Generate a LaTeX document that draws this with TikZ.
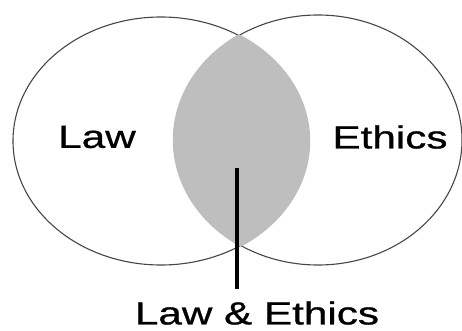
\documentclass[tikz,border=0pt]{standalone}
\usepackage{fontspec}
\usepackage{xcolor}
\usepackage{tikz}
\usetikzlibrary{positioning,shapes.geometric}
\newfontfamily\vennfont[FakeStretch=1.32,FakeBold=0.8]{Liberation Sans}
\definecolor{vennline}{RGB}{70,70,70}
\definecolor{venngray}{RGB}{190,190,190}

\begin{document}
\begin{tikzpicture}[x=1pt, y=-1pt,
      set/.style={draw=vennline, line width=1.1pt, ellipse, inner sep=0pt},
      lbl/.style={font=\vennfont\fontsize{32}{36}\selectfont, inner sep=0pt},
      lead/.style={line width=4.6pt}]
    \useasboundingbox (0,0) rectangle (462,331);
    \node[set, minimum width=296pt, minimum height=248pt] (law) at (161,141) {};
    \node[set, minimum width=288pt, minimum height=250pt] (eth) at (318,140) {};
    % shaded overlap hides the inner arcs
    \begin{scope}
      \clip (161,141) ellipse [x radius=149.2, y radius=125.2];
      \fill[venngray] (318,140) ellipse [x radius=145.2, y radius=126.2];
    \end{scope}
    \node[lbl] (lawtxt) at (97,137) {Law};
    \node[lbl] (ethtxt) at (390,137) {Ethics};
    \node[lbl, inner ysep=12pt] (both) at (257,313) {Law \& Ethics};
    \coordinate (tip) at (237,168);
    \draw[lead] (tip) -- (tip |- both.north);
  \end{tikzpicture}
\end{document}
